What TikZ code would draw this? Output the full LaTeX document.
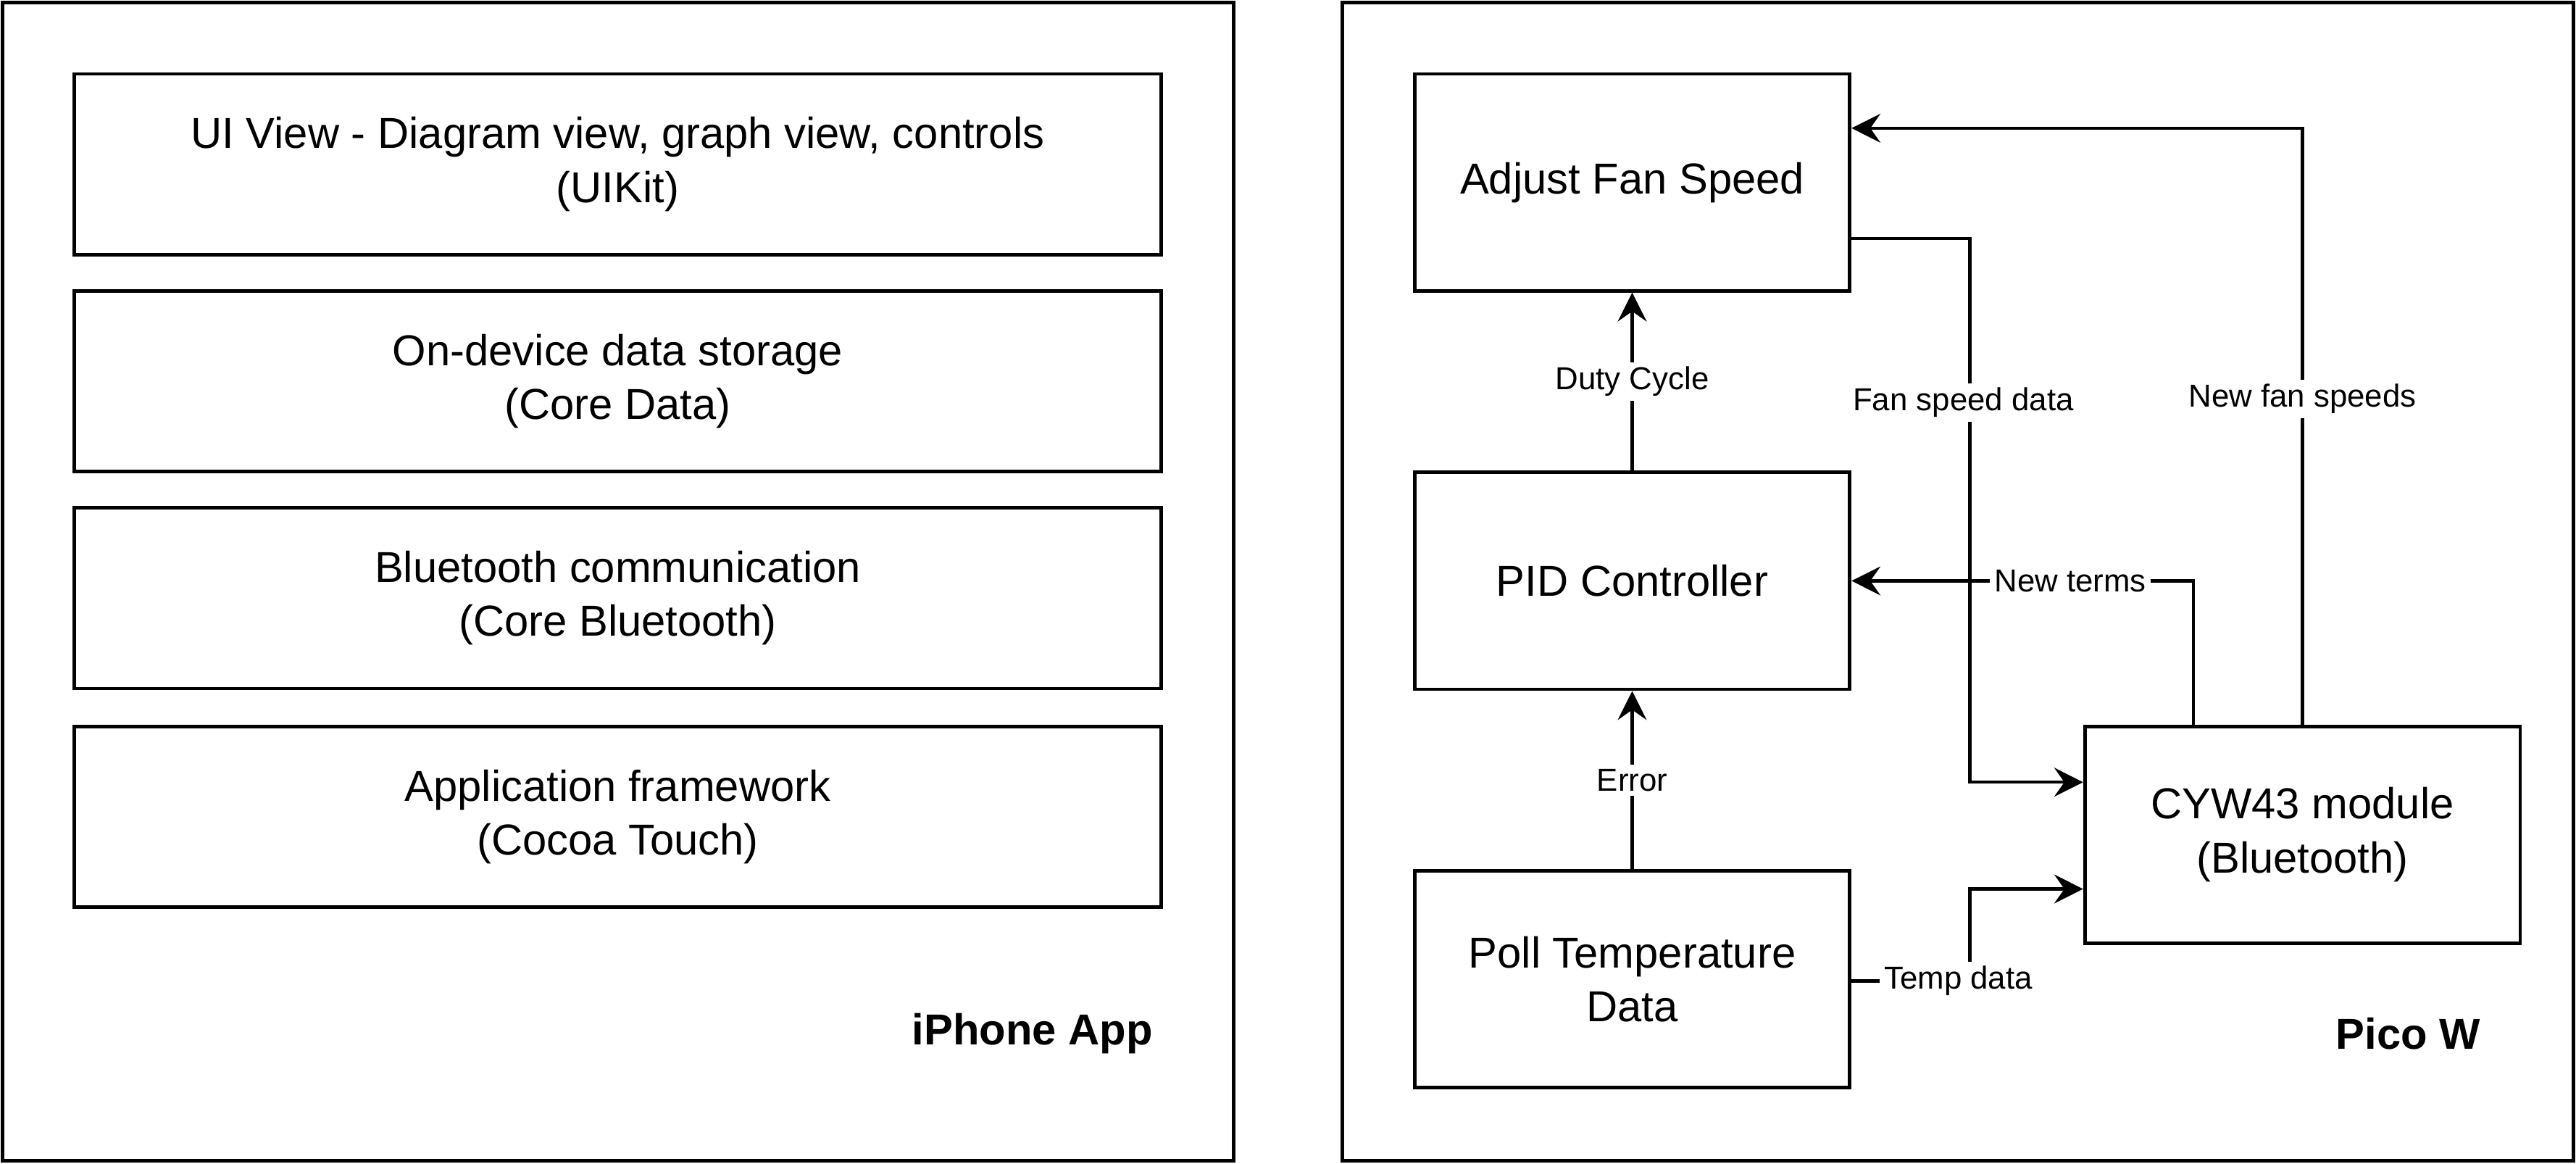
\documentclass[tikz,border=0pt]{standalone}
\usepackage{fontspec}
\setmainfont{Liberation Sans}
\usetikzlibrary{positioning}
\usetikzlibrary{arrows.meta}
\newcommand\boxfont{\fontsize{15}{18.7}\selectfont}
\newcommand\lblfont{\fontsize{11}{13}\selectfont}
\begin{document}
\begin{tikzpicture}[x=0.02cm,y=0.02cm,
         outpt/.style={->,black,line width=1.1pt},
         >={Stealth[length=10pt,width=10pt,inset=3.5pt]},
         layer/.style={draw,line width=1.2pt,minimum width=13.24cm,minimum height=2.2cm,align=center,font=\boxfont},
         task/.style={draw,line width=1.2pt,minimum width=5.3cm,minimum height=2.64cm,align=center,font=\boxfont},
         lbl/.style={fill=white,inner sep=1.5pt,font=\lblfont},
         title/.style={anchor=east,inner sep=0pt,font=\boxfont\bfseries},
         frame/.style={draw,line width=1.2pt}]
      \useasboundingbox (0,0) rectangle (1568,708);
      %
         \draw[frame] (1.5,1.5) rectangle (751,706.5);
         \draw[frame] (817,1.5) rectangle (1566.5,706.5);
      %% iPhone side
         \node (uiview) at (376,608) [layer]{UI View - Diagram view, graph view, controls\\(UIKit)};
         \node (storage) at (376,476) [layer]{On-device data storage\\(Core Data)};
         \node (btcomm) at (376,344) [layer]{Bluetooth communication\\(Core Bluetooth)};
         \node (appfw) at (376,211) [layer]{Application framework\\(Cocoa Touch)};
         \node (iphone) at (702,79) [title]{iPhone App};
      %% Pico side
         \node (adjust) at (993.5,597) [task]{Adjust Fan Speed};
         \node (pid) at (993.5,354.5) [task]{PID Controller};
         \node (poll) at (993.5,112) [task]{Poll Temperature\\Data};
         \node (cyw) at (1401.5,200) [task]{CYW43 module\\(Bluetooth)};
         \node (pico) at (1510,79) [title]{Pico W};
      %
         \draw[outpt](pid)--(adjust) node[lbl,midway]{Duty Cycle};
         \draw[outpt](poll)--(pid) node[lbl,midway]{Error};
      %
         \draw[outpt]([yshift=-0.68cm]adjust.east)--++(72,0)|-([yshift=0.64cm]cyw.west);
         \draw[outpt](cyw.north)|-([yshift=0.66cm]adjust.east) node[lbl,pos=0.273]{New fan speeds};
         \draw[outpt]([xshift=-1.33cm]cyw.north)|-(pid.east) node[lbl,pos=0.68]{New terms};
         \draw[outpt]([yshift=-0.02cm]poll.east)--++(72,0)|-([yshift=-0.66cm]cyw.west);
      %
         \node (fsdata) at (1195,463) [lbl]{Fan speed data};
         \node (tmpdata) at (1192,111) [lbl]{Temp data};
\end{tikzpicture}
\end{document}
